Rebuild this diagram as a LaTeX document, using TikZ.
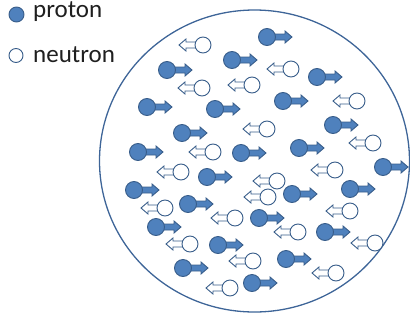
\documentclass[tikz,border=0pt]{standalone}
\usepackage{fontspec}
\setmainfont{Carlito}
\definecolor{pfill}{HTML}{4F81BD}
\definecolor{pline}{HTML}{385D8A}
\definecolor{bigline}{HTML}{3E6598}
\definecolor{txt}{HTML}{1F1F1F}
\tikzset{
  partline/.style={draw=pline, line width=0.9pt, line join=miter},
  proton/.pic={
    \path[partline, fill=pfill] (0,-3) -- (18,-3) -- (18,-6) -- (25,0) -- (18,6) -- (18,3) -- (0,3) -- cycle;
    \path[partline, fill=pfill] (0,0) circle[radius=8.5];
  },
  neutron/.pic={
    \path[partline, fill=white] (0,-3) -- (-17,-3) -- (-17,-6) -- (-24,0) -- (-17,6) -- (-17,3) -- (0,3) -- cycle;
    \path[partline, fill=white] (0,0) circle[radius=8];
  },
  legtext/.style={anchor=base west, inner sep=0pt, text=txt, font=\fontsize{25}{30}\selectfont}
}
\begin{document}
\begin{tikzpicture}[x=1pt,y=-1pt]
\useasboundingbox (0,0) rectangle (410,322);
% legend
\path[partline, fill=pfill] (16.5,14.5) circle[radius=7.5];
\node[legtext] (lp) at (33,17.5) {proton};
\path[partline, fill=white] (16,55.5) circle[radius=7];
\node[legtext] (ln) at (33,62.5) {neutron};
% nucleus
\draw[bigline, line width=1.3pt] (254.5,161) ellipse[x radius=155, y radius=151];
% neutrons
\foreach \x/\y in {203/45, 291/69, 202/88, 252/85, 357/101, 267/129, 373/143,
  213/152, 181/172, 335/170, 277/181, 268/197, 165/208, 350/211, 235/218,
  298/232, 190/244, 375/243, 253/261, 336/273, 230/288}
  \pic at (\x,\y) {neutron};
% protons
\foreach \x/\y in {267/37, 232/60, 167/70, 317/77, 283/101, 147/107, 215/109,
  333/125, 182/133, 138/152, 241/153, 299/148, 383/167, 207/177, 134/190,
  292/194, 350/189, 188/204, 259/218, 156/227, 325/232, 218/245, 286/259,
  183/268, 252/283}
  \pic at (\x,\y) {proton};
\end{tikzpicture}
\end{document}
